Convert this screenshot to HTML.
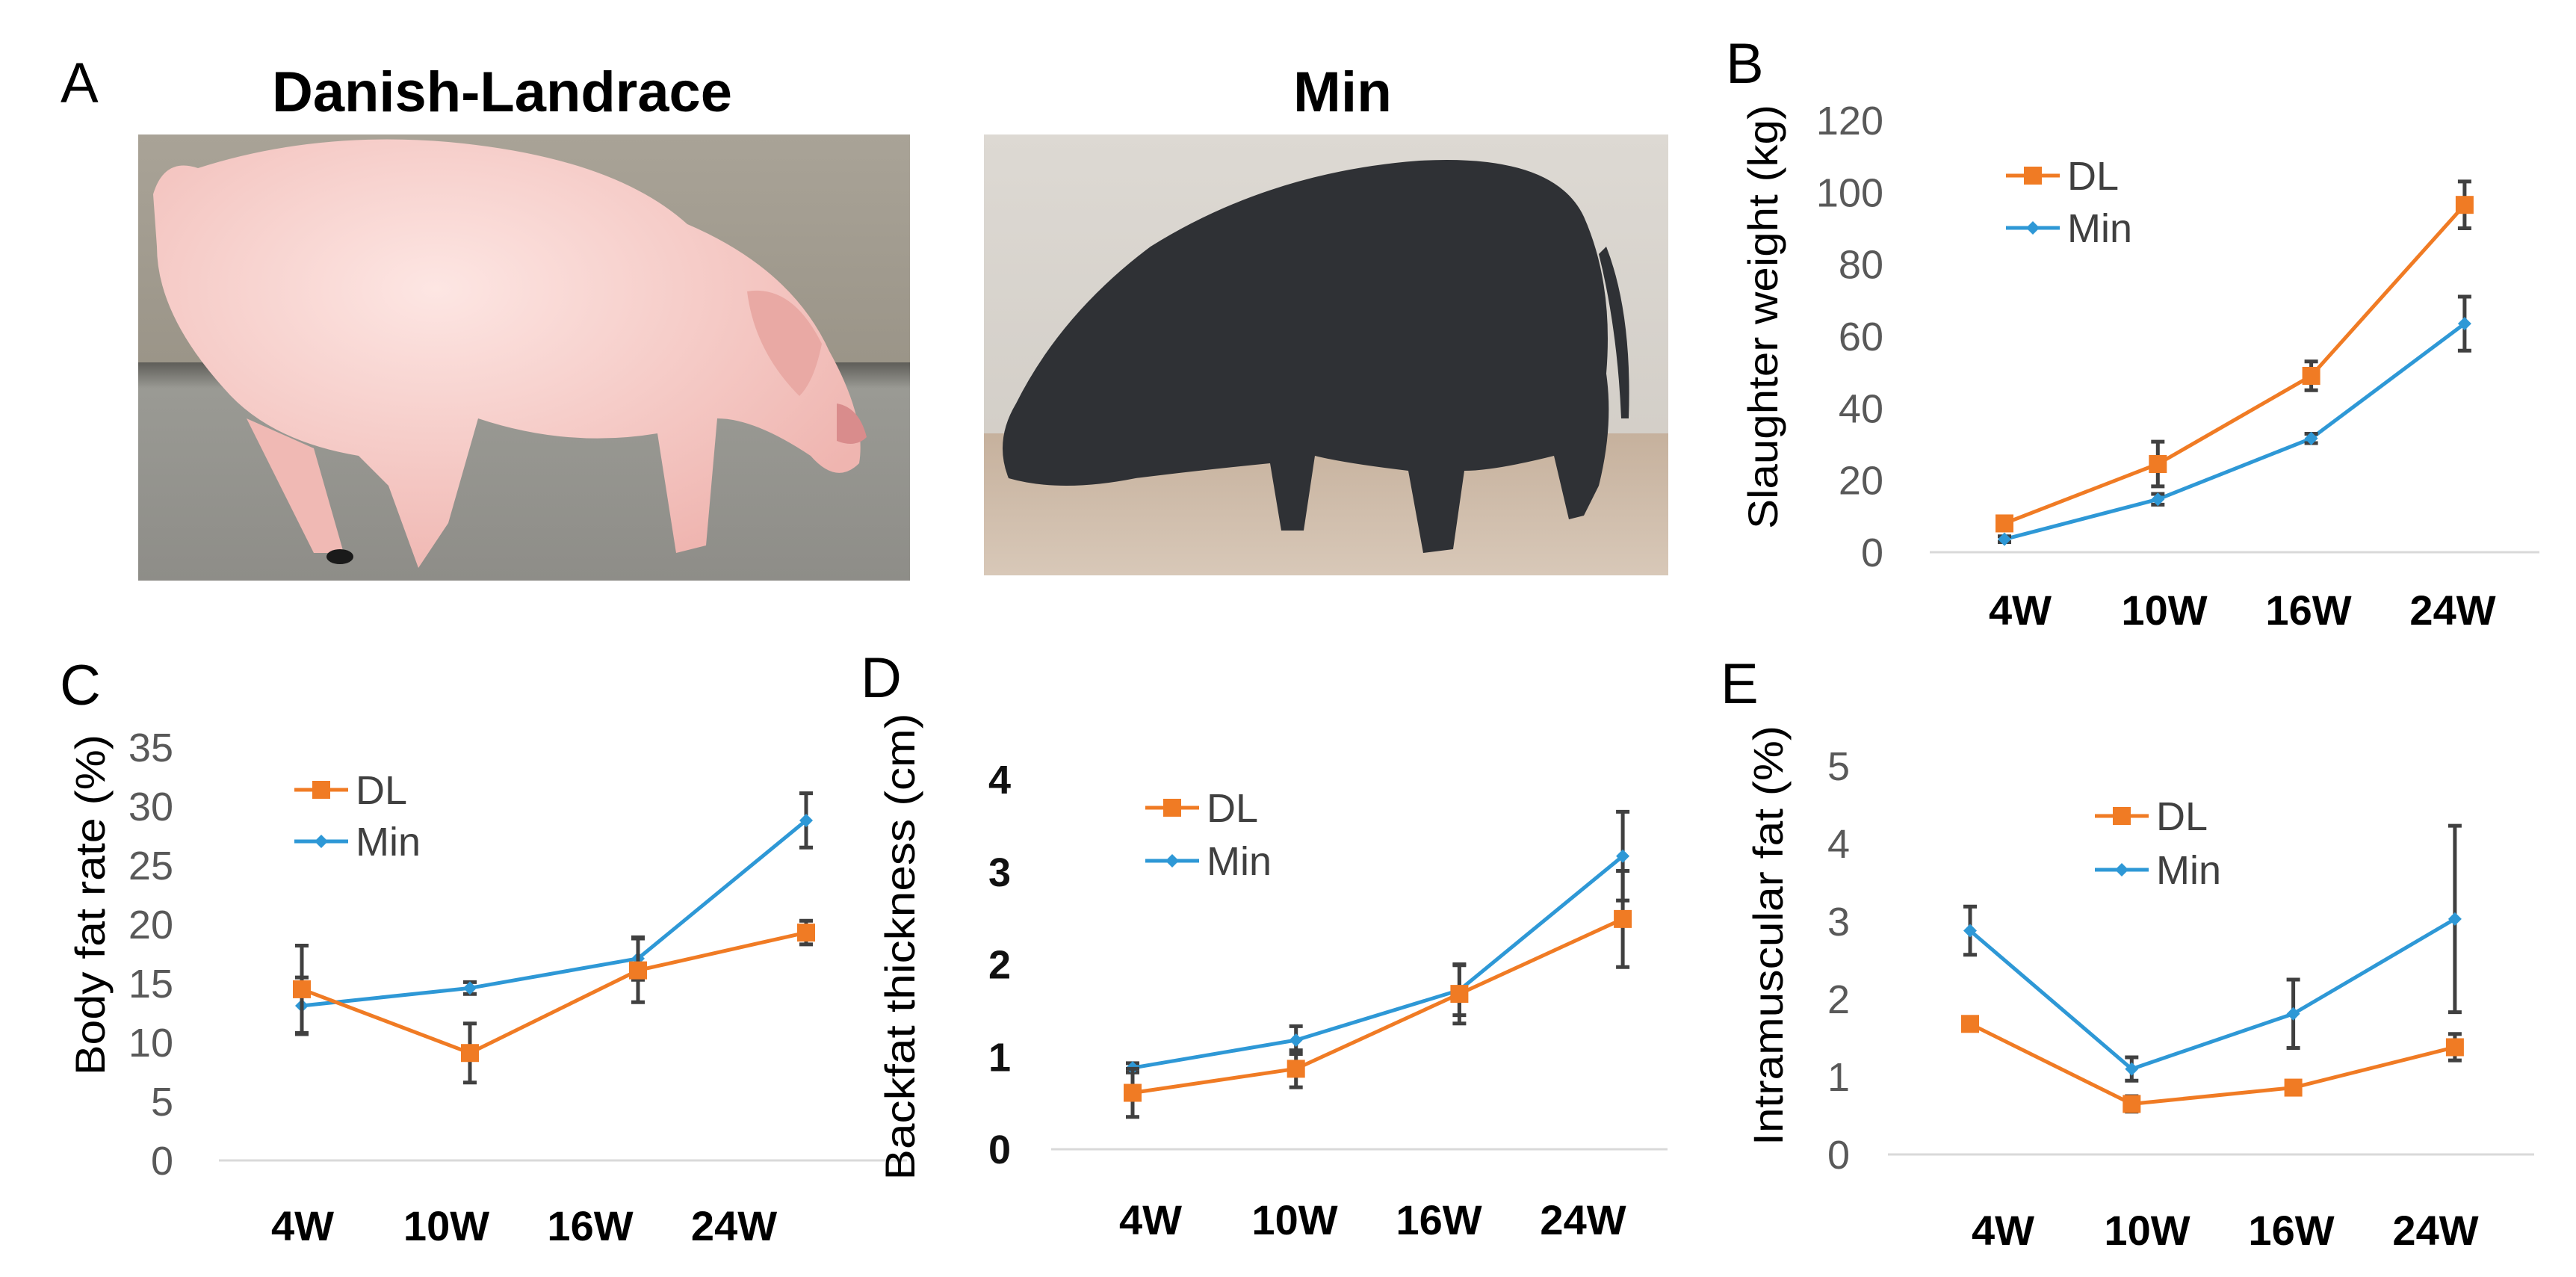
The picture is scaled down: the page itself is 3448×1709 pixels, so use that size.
<!DOCTYPE html>
<html><head><meta charset="utf-8"><style>
html,body{margin:0;padding:0;background:#fff;}
svg{display:block;font-family:"Liberation Sans",Arial,sans-serif;}
</style></head><body>
<svg id="fig" width="3448" height="1709" viewBox="0 0 3448 1709" xmlns="http://www.w3.org/2000/svg">
<defs>
<linearGradient id="wallA" x1="0" y1="0" x2="0" y2="1"><stop offset="0" stop-color="#a9a397"/><stop offset="1" stop-color="#8d877a"/></linearGradient>
<linearGradient id="floorA" x1="0" y1="0" x2="0" y2="1"><stop offset="0" stop-color="#5e5d58"/><stop offset="0.12" stop-color="#9a9a94"/><stop offset="1" stop-color="#8e8d88"/></linearGradient>
<radialGradient id="pinkBody" cx="0.4" cy="0.35" r="0.7"><stop offset="0" stop-color="#fde6e3"/><stop offset="1" stop-color="#efb5b0"/></radialGradient>
<linearGradient id="wallB" x1="0" y1="0" x2="0" y2="1"><stop offset="0" stop-color="#ddd9d3"/><stop offset="1" stop-color="#cfcac3"/></linearGradient>
<linearGradient id="floorB" x1="0" y1="0" x2="0" y2="1"><stop offset="0" stop-color="#c6b19d"/><stop offset="1" stop-color="#d8c8b8"/></linearGradient>
</defs>

<!-- Panel A -->
<text x="81" y="137" font-size="76" fill="#000">A</text>
<text x="364" y="149" font-size="76" font-weight="bold" textLength="616" lengthAdjust="spacingAndGlyphs">Danish-Landrace</text>
<text x="1731" y="149" font-size="76" font-weight="bold" textLength="132" lengthAdjust="spacingAndGlyphs">Min</text>

<g>
<rect x="185" y="180" width="1033" height="597" fill="url(#wallA)"/>
<rect x="185" y="485" width="1033" height="292" fill="url(#floorA)"/>
<path d="M205 260 Q220 210 265 225 Q420 175 600 190 Q820 210 920 300 Q1060 360 1110 470 Q1160 560 1150 620 Q1120 650 1085 610 Q1010 560 960 560 L945 730 L905 740 L880 580 Q760 600 640 560 L600 700 L560 760 L520 650 L480 610 Q360 590 300 520 Q210 420 210 330 Z" fill="url(#pinkBody)"/>
<path d="M330 560 L420 740 L460 740 L420 600 Z" fill="#f0b9b4"/>
<path d="M1000 390 Q1060 380 1100 460 Q1090 510 1070 530 Q1010 470 1000 390 Z" fill="#e9a9a4"/>
<path d="M1120 540 Q1150 545 1160 585 Q1145 600 1120 590 Z" fill="#d98c8c"/>
<ellipse cx="455" cy="745" rx="18" ry="10" fill="#1a1a1a"/>
</g>

<g>
<rect x="1317" y="180" width="916" height="590" fill="url(#wallB)"/>
<rect x="1317" y="580" width="916" height="190" fill="url(#floorB)"/>
<path d="M1350 640 Q1330 590 1360 540 Q1420 420 1540 330 Q1700 230 1900 215 Q2080 205 2120 290 Q2160 380 2150 500 Q2160 570 2140 650 L2120 690 L2100 695 L2080 610 Q2000 630 1960 630 L1945 735 L1905 740 L1885 630 Q1800 620 1760 610 L1745 710 L1715 710 L1700 620 Q1600 630 1520 640 Q1420 660 1350 640 Z" fill="#2f3135"/>
<path d="M2150 330 Q2185 420 2180 560 L2170 560 Q2165 440 2140 340 Z" fill="#2f3135"/>
</g>

<g id="charts"></g>
</svg>

<script>
// ---------- data ----------
const categories = ["4W", "10W", "16W", "24W"];

const bTicks = ["0", "20", "40", "60", "80", "100", "120"];
const bDL = [8, 24.5, 49, 96.5];
const bDLerr = [1, 6.2, 4, 6.5];
const bMin = [3.6, 14.7, 31.6, 63.5];
const bMinErr = [0.8, 1.5, 1.3, 7.5];

const cTicks = ["0", "5", "10", "15", "20", "25", "30", "35"];
const cDL = [14.5, 9.1, 16.1, 19.3];
const cDLerr = [3.7, 2.5, 2.7, 1];
const cMin = [13.1, 14.6, 17.1, 28.8];
const cMinErr = [2.4, 0.5, 1.8, 2.3];

const dTicks = ["0", "1", "2", "3", "4"];
const dDL = [0.61, 0.87, 1.68, 2.49];
const dDLerr = [0.26, 0.2, 0.32, 0.52];
const dMin = [0.88, 1.18, 1.72, 3.17];
const dMinErr = [0.05, 0.15, 0.27, 0.48];

const eTicks = ["0", "1", "2", "3", "4", "5"];
const eDL = [1.68, 0.65, 0.86, 1.38];
const eDLerr = [0.05, 0.1, 0.08, 0.17];
const eMin = [2.88, 1.1, 1.81, 3.03];
const eMinErr = [0.31, 0.15, 0.44, 1.2];

const ORANGE = "#f07b24", BLUE = "#2e98d6", ERR = "#404040";
const NS = "http://www.w3.org/2000/svg";
const root = document.getElementById("charts");

function mk(parent, tag, attrs, text) {
  const e = document.createElementNS(NS, tag);
  for (const k in attrs) e.setAttribute(k, attrs[k]);
  if (text !== undefined) e.textContent = text;
  parent.appendChild(e);
  return e;
}

function chart(cfg) {
  const g = mk(root, "g", {});
  
  
  const tickVals = cfg.ticks.map(Number);
  const vmax = tickVals[tickVals.length - 1];
  const y = v => cfg.y0 - (v / vmax) * (cfg.y0 - cfg.yTop);
  const x = i => cfg.px0 + i * cfg.pdx;
  const lx = i => cfg.lx0 + i * cfg.ldx;

  const pl = mk(g, "text", {x: cfg.letter[1], y: cfg.letter[2], "font-size": 76, fill: "#000"}, cfg.letter[0]);
  
  

  const ax = mk(g, "line", {x1: cfg.ax1, x2: cfg.ax2, y1: cfg.y0, y2: cfg.y0, stroke: "#d9d9d9", "stroke-width": 3});
  
  

  cfg.ticks.forEach((t, i) => {
    const e = mk(g, "text", {x: cfg.tickX, y: y(tickVals[i]) + 19, "font-size": 54, "text-anchor": "end",
      fill: cfg.tickBold ? "#111" : "#595959", "font-weight": cfg.tickBold ? "bold" : "normal"}, t);
    
    
  });

  categories.forEach((c, i) => {
    const e = mk(g, "text", {x: lx(i), y: cfg.labY + 20, "font-size": 56, "font-weight": "bold", "text-anchor": "middle", fill: "#000"}, c);
    
    
  });

  const tt = mk(g, "text", {x: 0, y: 0, "font-size": 56, "text-anchor": "middle", fill: "#000",
    transform: `translate(${cfg.titleX + 20},${cfg.titleY}) rotate(-90)`,
    textLength: cfg.titleLen, lengthAdjust: "spacingAndGlyphs"}, cfg.title);
  
  

  const series = [
    {name: "min", vals: cfg.min, err: cfg.minErr, color: BLUE, marker: "diamond"},
    {name: "dl", vals: cfg.dl, err: cfg.dlErr, color: ORANGE, marker: "square"}
  ];
  series.forEach(s => {
    const sg = mk(g, "g", {});
    
    
    const pts = s.vals.map((v, i) => x(i) + "," + y(v)).join(" ");
    const pl2 = mk(sg, "polyline", {points: pts, fill: "none", stroke: s.color, "stroke-width": 5, "stroke-linejoin": "round"});
    
    
    s.vals.forEach((v, i) => {
      const hi = y(v + s.err[i]), lo = y(v - s.err[i]), cx = x(i);
      const eb = mk(sg, "path", {d: `M${cx},${hi}V${lo}M${cx-9},${hi}H${cx+9}M${cx-9},${lo}H${cx+9}`, stroke: ERR, "stroke-width": 5, fill: "none"});
      
      
    });
    s.vals.forEach((v, i) => {
      const cx = x(i), cy = y(v);
      let m;
      if (s.marker === "square") m = mk(sg, "rect", {x: cx - 12, y: cy - 12, width: 24, height: 24, fill: s.color});
      else m = mk(sg, "path", {d: `M${cx},${cy-9}L${cx+9},${cy}L${cx},${cy+9}L${cx-9},${cy}Z`, fill: s.color});
      
      
    });
  });

  const lg = mk(g, "g", {});
  
  
  [["DL", ORANGE, "square", cfg.legY[0]], ["Min", BLUE, "diamond", cfg.legY[1]]].forEach(([lab, col, mkType, ly]) => {
    const eg = mk(lg, "g", {});
    
    
    mk(eg, "line", {x1: cfg.legX, x2: cfg.legX + 72, y1: ly, y2: ly, stroke: col, "stroke-width": 5});
    const mx = cfg.legX + 36;
    if (mkType === "square") mk(eg, "rect", {x: mx - 12, y: ly - 12, width: 24, height: 24, fill: col});
    else mk(eg, "path", {d: `M${mx},${ly-9}L${mx+9},${ly}L${mx},${ly+9}L${mx-9},${ly}Z`, fill: col});
    mk(eg, "text", {x: cfg.legX + 82, y: ly + 19, "font-size": 54, fill: "#404040"}, lab);
  });
}

chart({name: "chart-b-slaughter-weight", letter: ["B", 2310, 111], ticks: bTicks, dl: bDL, dlErr: bDLerr, min: bMin, minErr: bMinErr,
  y0: 739, yTop: 161, px0: 2683, pdx: 205.3, lx0: 2704, ldx: 193, labY: 816, ax1: 2583, ax2: 3399, tickX: 2521,
  title: "Slaughter weight (kg)", titleX: 2359, titleY: 424, titleLen: 568, legX: 2685, legY: [235, 305], tickBold: false});

chart({name: "chart-c-body-fat-rate", letter: ["C", 80, 943], ticks: cTicks, dl: cDL, dlErr: cDLerr, min: cMin, minErr: cMinErr,
  y0: 1553, yTop: 1000, px0: 404, pdx: 225, lx0: 405, ldx: 192.5, labY: 1640, ax1: 293, ax2: 1214, tickX: 232,
  title: "Body fat rate (%)", titleX: 120, titleY: 1211, titleLen: 456, legX: 394, legY: [1057, 1126], tickBold: false});

chart({name: "chart-d-backfat-thickness", letter: ["D", 1152, 933], ticks: dTicks, dl: dDL, dlErr: dDLerr, min: dMin, minErr: dMinErr,
  y0: 1538, yTop: 1043, px0: 1516, pdx: 218.7, lx0: 1540, ldx: 193, labY: 1632, ax1: 1407, ax2: 2232, tickX: 1353,
  title: "Backfat thickness  (cm)", titleX: 1204, titleY: 1267, titleLen: 625, legX: 1533, legY: [1081, 1152], tickBold: true});

chart({name: "chart-e-intramuscular-fat", letter: ["E", 2303, 941], ticks: eTicks, dl: eDL, dlErr: eDLerr, min: eMin, minErr: eMinErr,
  y0: 1545, yTop: 1025, px0: 2637, pdx: 216.3, lx0: 2681, ldx: 193, labY: 1646, ax1: 2527, ax2: 3392, tickX: 2476,
  title: "Intramuscular fat (%)", titleX: 2366, titleY: 1252, titleLen: 562, legX: 2804, legY: [1092, 1164], tickBold: false});
</script>
</body></html>
